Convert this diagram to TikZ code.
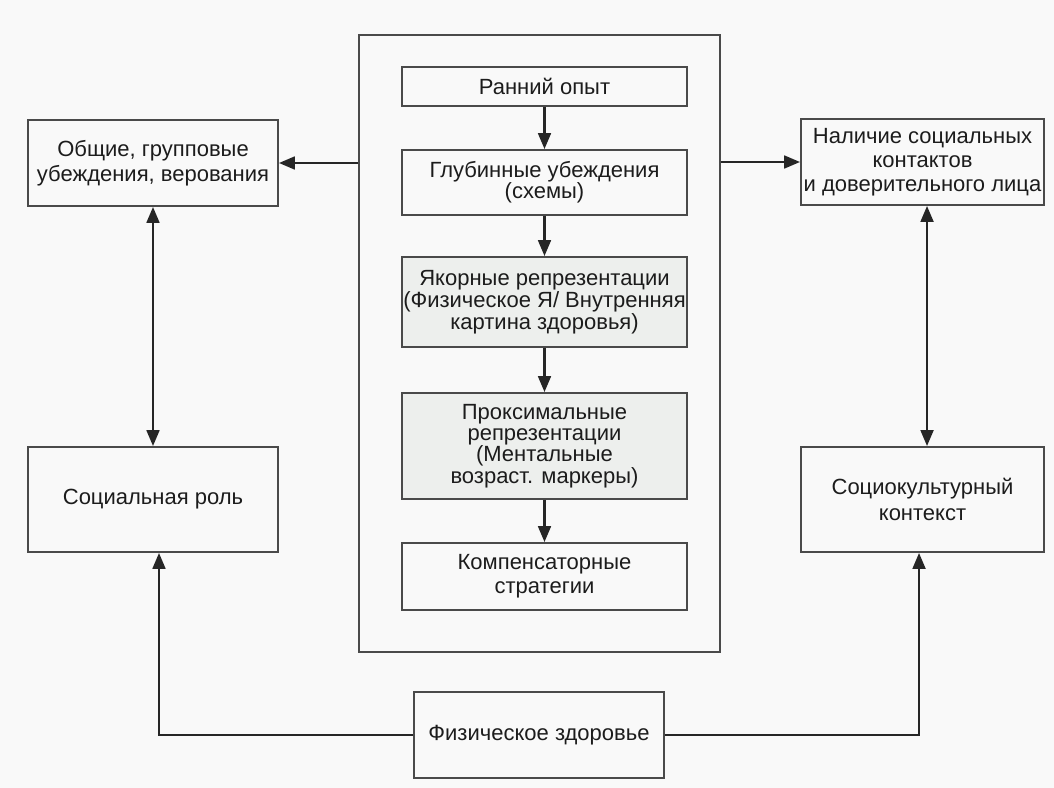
\documentclass[tikz,border=0pt]{standalone}
\usepackage{fontspec}
\setmainfont{Liberation Sans}
\usepackage{xcolor}
\usetikzlibrary{arrows.meta, positioning}

\definecolor{bgcol}{HTML}{F9F9F9}
\definecolor{boxgray}{HTML}{EDEFED}
\definecolor{linecol}{HTML}{4A4A4A}
\definecolor{textcol}{HTML}{1C1C1C}

\newcommand{\boxfont}[1]{\fontsize{16.5pt}{#1}\selectfont}

\begin{document}
\begin{tikzpicture}[x=0.75pt,y=-0.75pt,>={Triangle[length=12pt,width=9.5pt]}]
       \tikzstyle{every node}=[font=\boxfont{16pt},text=textcol]
       \tikzstyle{box}=[draw=linecol,line width=1.3pt,align=center,inner sep=0pt]
       \tikzstyle{shadedbox}=[box,fill=boxgray]
       \tikzstyle{link}=[draw=black!85,line width=2pt]

       \fill[bgcol] (0,0) rectangle (1054,788);
       \useasboundingbox (0,0) rectangle (1054,788);

       \node[box,minimum width=270.75pt,minimum height=462.75pt] (frame) at (539.5,343.5) {};

       \node[box,minimum width=213.75pt,minimum height=29.25pt] (early) at (544.5,86.5) {Ранний опыт};
       \node[box,minimum width=213.75pt,minimum height=48.75pt] (deep) at (544.5,182.5) {Глубинные убеждения\\(схемы)};
       \node[shadedbox,minimum width=213.75pt,minimum height=67.5pt,font=\boxfont{14.5pt}] (anchor) at (544.5,302) {Якорные репрезентации\\(Физическое Я/ Внутренняя\\картина здоровья)};
       \node[shadedbox,minimum width=213.75pt,minimum height=79.5pt] (prox) at (544.5,446) {Проксимальные\\репрезентации\\(Ментальные\\возраст. маркеры)};
       \node[box,minimum width=213.75pt,minimum height=50.25pt,font=\boxfont{18pt}] (comp) at (544.5,576.5) {Компенсаторные\\стратегии};

       \node[box,minimum width=187.5pt,minimum height=64.5pt,font=\boxfont{19pt}] (general) at (153,163) {Общие, групповые\\убеждения, верования};
       \node[box,minimum width=182.25pt,minimum height=64.5pt,font=\boxfont{18pt}] (contacts) at (922.5,162) {Наличие социальных\\контактов\\и доверительного лица};
       \node[box,minimum width=187.5pt,minimum height=78.75pt] (role) at (153,499.5) {Социальная роль};
       \node[box,minimum width=182.25pt,minimum height=78.75pt,font=\boxfont{19pt}] (context) at (922.5,499.5) {Социокультурный\\контекст};
       \node[box,minimum width=187.5pt,minimum height=64.5pt] (health) at (539,735) {Физическое здоровье};

       % inner chain
       \draw[link,->] (early) -- (deep);
       \draw[link,->] (deep) -- (anchor);
       \draw[link,->] (anchor) -- (prox);
       \draw[link,->] (prox) -- (comp);

       % frame to the side boxes
       \draw[link,->] (frame.west |- general.east) -- (general.east);
       \draw[link,->] (frame.east |- contacts.west) -- (contacts.west);

       % vertical links
       \draw[link,<->] (general.south) -- (role.north);
       \draw[link,<->] ([xshift=3.4pt]contacts.south) -- ([xshift=3.4pt]context.north);

       % from health
       \draw[link,->] (health.west) -| ([xshift=4.5pt]role.south);
       \draw[link,->] (health.east) -| ([xshift=-2.6pt]context.south);
\end{tikzpicture}
\end{document}
